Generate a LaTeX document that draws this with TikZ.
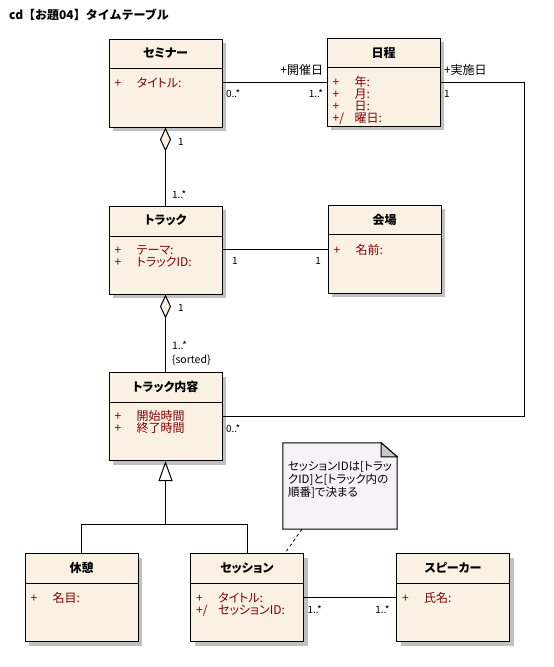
\documentclass[tikz,border=0pt]{standalone}
\usepackage{fontspec}
\setmainfont{Noto Sans CJK JP}[RawFeature=+palt]
\newfontfamily\fullfont{Noto Sans CJK JP}
\usetikzlibrary{arrows.meta,shadows}
\definecolor{clsfill}{RGB}{251,241,227}
\definecolor{clsshadow}{RGB}{192,192,192}
\definecolor{attrred}{RGB}{128,0,0}
\definecolor{notefill}{RGB}{246,243,246}
\definecolor{foldgray}{RGB}{200,200,200}
\newcommand{\vis}[1]{\makebox[22pt][l]{#1}}
\tikzset{
  cls/.style={draw, line width=1pt, fill=clsfill, minimum width=113pt, minimum height=88pt, inner sep=0pt,
    drop shadow={shadow xshift=4pt, shadow yshift=-4pt, fill=clsshadow, opacity=1}},
  clsname/.style={font=\fontsize{12}{13}\selectfont\bfseries, inner sep=0pt},
  attrs/.style={anchor=north west, inner sep=0pt, align=left, text=attrred, font=\fontsize{12}{12}\selectfont},
  mult/.style={font=\fontsize{10}{12}\selectfont, inner xsep=3pt, inner ysep=7pt, text height=8pt, text depth=2pt},
  role/.style={mult, font=\fontsize{12}{12}\selectfont, inner ysep=5pt},
  conn/.style={line width=1pt},
  agg/.style={conn, {Diamond[length=24pt, width=11pt, fill=clsfill]}-},
  gen/.style={conn, -{Triangle[open, length=20pt, width=14pt]}},
  notelink/.style={line width=0.8pt, dash pattern=on 3pt off 3pt},
}

\begin{document}
\begin{tikzpicture}[x=1pt, y=-1pt]
    \useasboundingbox[fill=white] (0,0) rectangle (554,667);
    \node[anchor=west, inner sep=0pt, font=\fullfont\fontsize{12}{14}\selectfont\bfseries] (title) at (9,15) {cd【お題04】タイムテーブル};

    % classes
    \node[cls] (seminar) at (165.5,83) {};
    \node[cls] (nittei) at (383.5,82) {};
    \node[cls] (track) at (165.5,250) {};
    \node[cls] (kaijo) at (384.5,249) {};
    \node[cls] (naiyo) at (165.5,416.5) {};
    \node[cls] (kyukei) at (81.5,597.5) {};
    \node[cls] (session) at (247,597.5) {};
    \node[cls] (speaker) at (453,597.5) {};

    \draw[conn] ([yshift=-30pt]seminar.north west) -- ([yshift=-30pt]seminar.north east);
    \draw[conn] ([yshift=-30pt]nittei.north west) -- ([yshift=-30pt]nittei.north east);
    \draw[conn] ([yshift=-31pt]track.north west) -- ([yshift=-31pt]track.north east);
    \draw[conn] ([yshift=-30pt]kaijo.north west) -- ([yshift=-30pt]kaijo.north east);
    \draw[conn] ([yshift=-30pt]naiyo.north west) -- ([yshift=-30pt]naiyo.north east);
    \draw[conn] ([yshift=-30pt]kyukei.north west) -- ([yshift=-30pt]kyukei.north east);
    \draw[conn] ([yshift=-30pt]session.north west) -- ([yshift=-30pt]session.north east);
    \draw[conn] ([yshift=-30pt]speaker.north west) -- ([yshift=-30pt]speaker.north east);

    \node[clsname] (seminar-n) at ([yshift=-15pt]seminar.north) {セミナー};
    \node[clsname] (nittei-n) at ([yshift=-15pt]nittei.north) {日程};
    \node[clsname] (track-n) at ([yshift=-15pt]track.north) {トラック};
    \node[clsname] (kaijo-n) at ([yshift=-15pt]kaijo.north) {会場};
    \node[clsname] (naiyo-n) at ([yshift=-15pt]naiyo.north) {トラック内容};
    \node[clsname] (kyukei-n) at ([yshift=-15pt]kyukei.north) {休憩};
    \node[clsname] (session-n) at ([yshift=-15pt]session.north) {セッション};
    \node[clsname] (speaker-n) at ([yshift=-15pt]speaker.north) {スピーカー};

    \node[attrs] (seminar-a) at ([xshift=6pt,yshift=-39.5pt]seminar.north west) {\vis{+}タイトル:};
    \node[attrs] (nittei-a) at ([xshift=6pt,yshift=-38.5pt]nittei.north west) {\vis{+}年:\\\vis{+}月:\\\vis{+}日:\\\vis{+/}曜日:};
    \node[attrs] (track-a) at ([xshift=6pt,yshift=-39.5pt]track.north west) {\vis{+}テーマ:\\\vis{+}トラックID:};
    \node[attrs] (kaijo-a) at ([xshift=6pt,yshift=-39.5pt]kaijo.north west) {\vis{+}名前:};
    \node[attrs] (naiyo-a) at ([xshift=6pt,yshift=-38.5pt]naiyo.north west) {\vis{+}開始時間\\\vis{+}終了時間};
    \node[attrs] (kyukei-a) at ([xshift=6pt,yshift=-39.5pt]kyukei.north west) {\vis{+}名目:};
    \node[attrs] (session-a) at ([xshift=6pt,yshift=-39.5pt]session.north west) {\vis{+}タイトル:\\\vis{+/}セッションID:};
    \node[attrs] (speaker-a) at ([xshift=6pt,yshift=-39.5pt]speaker.north west) {\vis{+}氏名:};

    % note
    \node[minimum width=114pt, minimum height=86pt, inner sep=0pt] (note) at (340,486) {};
    \draw[conn, fill=notefill] (note.south west) -- (note.north west) -- ([xshift=-16pt]note.north east)
        -- ([yshift=-14pt]note.north east) -- (note.south east) -- cycle;
    \draw[conn, fill=foldgray] ([xshift=-16pt]note.north east) -- ([xshift=-16pt,yshift=-14pt]note.north east)
        -- ([yshift=-14pt]note.north east) -- cycle;
    \node[anchor=north west, align=left, inner sep=0pt, font=\fontsize{11.5}{13}\selectfont] (note-t)
        at ([xshift=5pt,yshift=-18pt]note.north west) {セッションIDは[トラッ\\クID]と[トラック内の\\順番]で決まる};
    \draw[notelink] ([xshift=-38pt]note.south) -- ([xshift=38pt]session.north);

    % associations
    \draw[conn] (nittei.west -| seminar.east) node[mult, anchor=north west] (m1) {0..*}
        -- (nittei.west) node[role, anchor=south east] (r1) {+開催日} node[mult, anchor=north east] (m2) {1..*};
    \draw[conn] (nittei.east) node[role, anchor=south west] (r2) {+実施日} node[mult, anchor=north west] (m3) {1}
        -- ++(84,0) |- (naiyo.east) node[mult, anchor=north west] (m4) {0..*};
    \draw[agg] (seminar.south) -- (track.north)
        node[mult, pos=0, anchor=west, xshift=9pt, yshift=-15pt] (m5) {1}
        node[mult, pos=1, anchor=west, xshift=3pt, yshift=10pt] (m6) {1..*};
    \draw[conn] (track.east |- kaijo.west) node[mult, anchor=north west, xshift=6pt] (m7) {1}
        -- (kaijo.west) node[mult, anchor=north east, xshift=-3pt] (m8) {1};
    \draw[agg] (track.south) -- (naiyo.north)
        node[mult, pos=0, anchor=west, xshift=9pt, yshift=-14pt] (m9) {1}
        node[pos=1, anchor=south west, align=left, inner sep=0pt, xshift=6pt, yshift=6pt, font=\fontsize{10.5}{14}\selectfont] (m10) {1..*\\\{sorted\}};
    \draw[conn] (session.east) node[mult, anchor=north west] (m11) {1..*}
        -- (speaker.west) node[mult, anchor=north east, xshift=-3pt] (m12) {1..*};

    % generalization
    \coordinate (genjoin) at (naiyo.south |- 0,524.5);
    \draw[gen] (genjoin) -- (naiyo.south);
    \draw[conn] (kyukei.north) |- (genjoin) -| (session.north);
\end{tikzpicture}
\end{document}
